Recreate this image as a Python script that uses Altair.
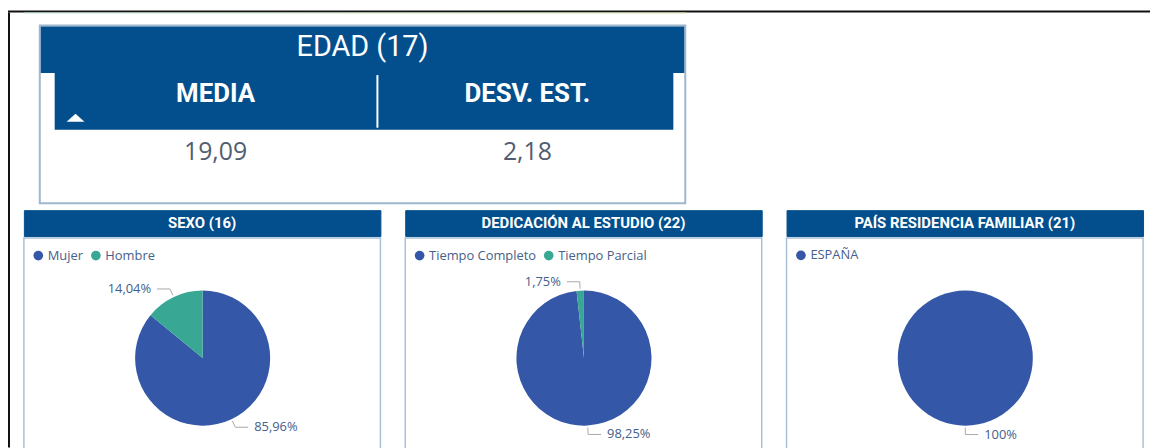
import altair as alt
import pandas as pd

# ---------------- data ----------------
edad_title = ["EDAD (17)"]
edad_cols = ["MEDIA", "DESV. EST."]
edad_vals = [19.09, 2.18]

panel_titles = ["SEXO (16)", "DEDICACIÓN AL ESTUDIO (22)", "PAÍS RESIDENCIA FAMILIAR (21)"]
sexo_cats = ["Mujer", "Hombre"]
sexo_vals = [85.96, 14.04]
dedic_cats = ["Tiempo Completo", "Tiempo Parcial"]
dedic_vals = [98.25, 1.75]
pais_cats = ["ESPAÑA"]
pais_vals = [100.0]

# ---------------- style ----------------
HEADER = "#034F8D"
BORDER = "#A9C0D9"
EDAD_BORDER = "#9FB6CF"
BLUE = "#3457A8"
TEAL = "#38A794"
LABEL = "#45608A"
VALUE = "#505D70"
LEADER = "#A8A8A8"
LFONT = "Open Sans"
HFONT = "Roboto"

PW, PH_HEAD, PH_BODY = 359, 26, 216
CX, CY, R = 180, 121, 68
R0, R1, HSEG, GAP = 70, 77, 13, 6
SP_TOP, SP_MID = 11, 5

one = pd.DataFrame({"k": [0]})


def blank(w, h, fill, opacity=1.0):
    return alt.Chart(one).mark_rect(color=fill, opacity=opacity).encode(
        x=alt.value(0), x2=alt.value(w), y=alt.value(0), y2=alt.value(h)
    ).properties(width=w, height=h, view=alt.ViewBackground(strokeWidth=0))


def pie_panel(title, cats, vals, colors):
    df = pd.DataFrame({"cat": cats, "value": vals, "order": list(range(len(cats)))})
    xs = alt.Scale(domain=[-CX, PW - CX], nice=False, zero=False)
    ys = alt.Scale(domain=[-CY, PH_BODY - CY], nice=False, zero=False, reverse=True)
    base = alt.Chart(df)
    arc = base.mark_arc(radius=R).encode(
        theta=alt.Theta("value:Q", stack=True),
        order=alt.Order("order:Q"),
        color=alt.Color(
            "cat:N",
            scale=alt.Scale(domain=cats, range=colors),
            legend=alt.Legend(
                orient="none", legendX=8, legendY=11, direction="horizontal",
                title=None, symbolType="circle", symbolSize=95, symbolStrokeWidth=0,
                labelFont=LFONT, labelFontSize=13, labelColor=LABEL,
                columnPadding=6, labelOffset=3, padding=0,
            ),
        ),
        x=alt.XDatum(0, type="quantitative", scale=xs, axis=None),
        y=alt.YDatum(0, type="quantitative", scale=ys, axis=None),
    )
    geo = base.transform_joinaggregate(total="sum(value)").transform_window(
        cum="sum(value)", sort=[alt.SortField("order", order="ascending")]
    ).transform_calculate(
        mid="2*PI*(datum.cum - datum.value/2)/datum.total"
    ).transform_calculate(
        side="sin(datum.mid) > -0.000001 ? 1 : -1",
        x0=f"{R0}*sin(datum.mid)",
        y0=f"-{R0}*cos(datum.mid)",
        x1=f"{R1}*sin(datum.mid)",
        y1=f"-{R1}*cos(datum.mid)",
    ).transform_calculate(
        x2=f"datum.x1 + datum.side*{HSEG}",
        tx=f"datum.x1 + datum.side*{HSEG + GAP}",
        label="(datum.value == floor(datum.value) ? format(datum.value, 'd') : replace(format(datum.value, '.2f'), '.', ',')) + '%'",
    )
    seg1 = geo.mark_rule(color=LEADER, strokeWidth=1).encode(
        x=alt.X("x0:Q", scale=xs, axis=None), y=alt.Y("y0:Q", scale=ys, axis=None),
        x2="x1:Q", y2="y1:Q",
    )
    seg2 = geo.mark_rule(color=LEADER, strokeWidth=1).encode(
        x=alt.X("x1:Q", scale=xs, axis=None), y=alt.Y("y1:Q", scale=ys, axis=None),
        x2="x2:Q", y2="y1:Q",
    )
    txt_r = geo.transform_filter("datum.side > 0").mark_text(
        align="left", baseline="middle", font=LFONT, fontSize=13, color=LABEL
    ).encode(x=alt.X("tx:Q", scale=xs, axis=None), y=alt.Y("y1:Q", scale=ys, axis=None), text="label:N")
    txt_l = geo.transform_filter("datum.side < 0").mark_text(
        align="right", baseline="middle", font=LFONT, fontSize=13, color=LABEL
    ).encode(x=alt.X("tx:Q", scale=xs, axis=None), y=alt.Y("y1:Q", scale=ys, axis=None), text="label:N")

    body = alt.layer(arc, seg1, seg2, txt_r, txt_l).properties(
        width=PW, height=PH_BODY,
        view=alt.ViewBackground(fill="white", stroke=BORDER, strokeWidth=1.5),
    )
    header = alt.Chart(pd.DataFrame({"t": [title]})).mark_text(
        font=HFONT, fontWeight="bold", fontSize=15, color="white", baseline="alphabetic"
    ).encode(text="t:N", x=alt.value(PW / 2), y=alt.value(18)).properties(
        width=PW, height=PH_HEAD, view=alt.ViewBackground(fill=HEADER, stroke=HEADER, strokeWidth=1)
    )
    return alt.vconcat(header, body, spacing=0).resolve_scale(color="independent")


# ---------------- EDAD table ----------------
EW, EH = 650, 179
edf = pd.DataFrame({"col": edad_cols, "value": edad_vals})
xb = alt.Scale(type="band", domain=edad_cols, range=[20, 648], paddingInner=0, paddingOuter=0)

e_head = alt.Chart(one).mark_rect(color=HEADER).encode(
    x=alt.value(1), x2=alt.value(EW - 1), y=alt.value(1), y2=alt.value(48)
)
e_title = alt.Chart(pd.DataFrame({"t": edad_title})).mark_text(
    font=HFONT, fontSize=29, color="white", baseline="alphabetic"
).encode(text="t:N", x=alt.value(EW / 2), y=alt.value(31))
e_sub = alt.Chart(one).mark_rect(color=HEADER).encode(
    x=alt.value(15), x2=alt.value(638), y=alt.value(48), y2=alt.value(105)
)
e_sep = alt.Chart(one).mark_rule(color="white", strokeWidth=2).encode(
    x=alt.value(340), y=alt.value(50), y2=alt.value(103)
)
e_tri = alt.Chart(one).mark_point(
    shape="M -1 0.45 L 1 0.45 L 0 -0.45 Z", filled=True, color="white", size=324, opacity=1
).encode(x=alt.value(36), y=alt.value(93))
e_cols = alt.Chart(edf).mark_text(
    font=HFONT, fontWeight="bold", fontSize=26, color="white", baseline="alphabetic"
).encode(x=alt.X("col:N", scale=xb, axis=None), y=alt.value(77), text="col:N")
e_vals = alt.Chart(edf).transform_calculate(
    label="replace(format(datum.value, '.2f'), '.', ',')"
).mark_text(
    font=LFONT, fontSize=25, color=VALUE, baseline="alphabetic"
).encode(x=alt.X("col:N", scale=xb, axis=None), y=alt.value(136), text="label:N")

edad = alt.layer(e_head, e_title, e_sub, e_sep, e_tri, e_cols, e_vals).properties(
    width=EW, height=EH, view=alt.ViewBackground(fill="white", stroke=EDAD_BORDER, strokeWidth=2)
)

# gradient accent line under the frame
grad = alt.Chart(one).mark_rect(
    color=alt.LinearGradient(
        gradient="linear", x1=0, x2=1, y1=0, y2=0,
        stops=[alt.GradientStop(color="#BFE3D8", offset=0), alt.GradientStop(color="#D6E3AE", offset=1)],
    )
).encode(x=alt.value(0), x2=alt.value(667), y=alt.value(0), y2=alt.value(1)).properties(
    width=667, height=1, view=alt.ViewBackground(strokeWidth=0)
)

edad_row = alt.hconcat(blank(1, EH, "white", 0.0), edad, spacing=14)
top_section = alt.vconcat(grad, edad_row, spacing=SP_TOP)

bottom_row = alt.hconcat(
    pie_panel(panel_titles[0], sexo_cats, sexo_vals, [BLUE, TEAL]),
    pie_panel(panel_titles[1], dedic_cats, dedic_vals, [BLUE, TEAL]),
    pie_panel(panel_titles[2], pais_cats, pais_vals, [BLUE]),
    spacing=23,
).resolve_scale(color="independent")

content = alt.vconcat(top_section, bottom_row, spacing=SP_MID).resolve_scale(color="independent")
TOTAL_H = 1 + SP_TOP + EH + SP_MID + PH_HEAD + PH_BODY

row = alt.hconcat(blank(2, TOTAL_H, "#111111"), content, spacing=13).resolve_scale(color="independent")

chart = alt.vconcat(blank(1150, 2, "#111111"), row, spacing=0).resolve_scale(
    color="independent"
).properties(padding={"left": 0, "top": 1, "right": 0, "bottom": 0})

chart.save("out.html", embed_options={"renderer": "svg", "actions": False})
